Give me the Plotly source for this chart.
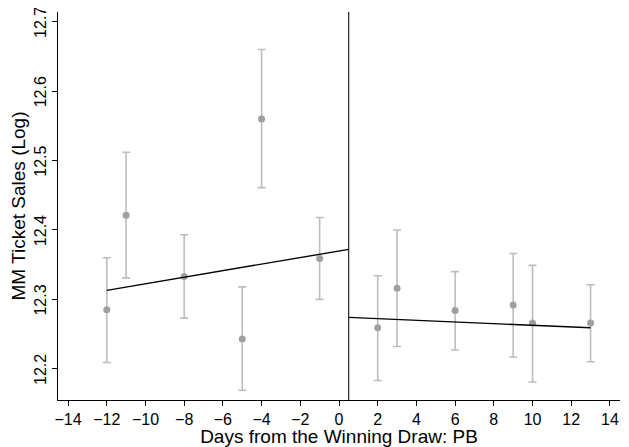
import plotly.graph_objects as go

days = [-12, -11, -8, -5, -4, -1, 2, 3, 6, 9, 10, 13]
sales = [12.285, 12.421, 12.333, 12.243, 12.560, 12.359, 12.259, 12.316, 12.284, 12.292, 12.266, 12.266]
upper = [12.360, 12.512, 12.393, 12.318, 12.660, 12.418, 12.334, 12.400, 12.340, 12.366, 12.349, 12.321]
lower = [12.209, 12.331, 12.273, 12.169, 12.461, 12.300, 12.183, 12.232, 12.227, 12.217, 12.181, 12.210]

cutoff = 0.5
fit_left_x = [-12, 0.5]
fit_left_y = [12.313, 12.372]
fit_right_x = [0.5, 13]
fit_right_y = [12.274, 12.259]

x_ticks = list(range(-14, 15, 2))
y_ticks = [12.2, 12.3, 12.4, 12.5, 12.6, 12.7]

err_plus = [u - s for u, s in zip(upper, sales)]
err_minus = [s - l for s, l in zip(sales, lower)]

fig = go.Figure()
fig.add_trace(go.Scatter(
    x=days, y=sales, mode="markers",
    marker=dict(color="#a0a0a0", size=7),
    error_y=dict(type="data", array=err_plus, arrayminus=err_minus,
                 color="#bdbdbd", thickness=1.6, width=4),
    showlegend=False))
fig.add_trace(go.Scatter(x=fit_left_x, y=fit_left_y, mode="lines",
                         line=dict(color="black", width=1.4), showlegend=False))
fig.add_trace(go.Scatter(x=fit_right_x, y=fit_right_y, mode="lines",
                         line=dict(color="black", width=1.4), showlegend=False))
fig.add_shape(type="line", xref="x", yref="paper", x0=cutoff, x1=cutoff, y0=0, y1=1,
              line=dict(color="#222222", width=1.2))

fam = "Liberation Sans, Arial, sans-serif"
font = dict(family=fam, size=16, color="black")
# page body has an 8px default margin, so the figure is offset by 8px
fig.update_layout(
    width=621, height=439,
    margin=dict(l=50, r=9, t=4, b=47),
    plot_bgcolor="white", paper_bgcolor="white",
    font=font,
    xaxis=dict(range=[-14.52, 14.52], tickvals=x_ticks,
               ticktext=[str(t).replace("-", "\u2212") for t in x_ticks],
               showgrid=False, zeroline=False, showline=True, linecolor="black", linewidth=1,
               ticks="outside", ticklen=5, tickcolor="black", automargin=False,
               title=dict(text="Days from the Winning Draw: PB", standoff=0)),
    yaxis=dict(range=[12.155, 12.714], tickvals=y_ticks,
               ticktext=[f"{t:.1f}" for t in y_ticks], tickangle=-90,
               ticklabeloverflow="allow", ticklabelshift=3,
               showgrid=False, zeroline=False, showline=True, linecolor="black", linewidth=1,
               ticks="outside", ticklen=5, tickcolor="black", automargin=False,
               title=dict(text="MM Ticket Sales (Log)", standoff=3)),
)
fig.write_html("out.html")
